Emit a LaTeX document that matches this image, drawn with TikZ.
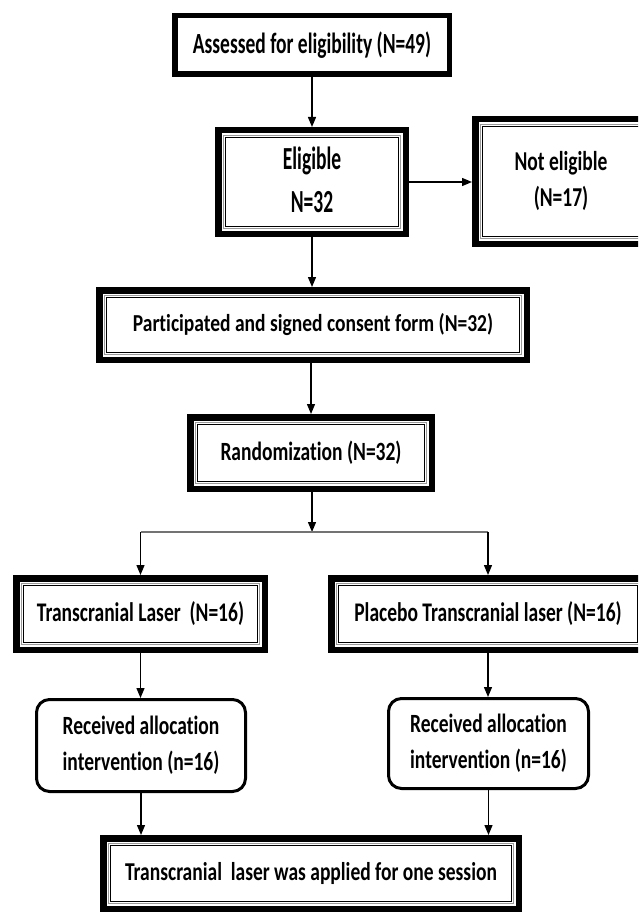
\documentclass[tikz,border=0pt]{standalone}
\usepackage{fontspec}
\setmainfont{Carlito}[Ligatures=NoCommon]
\usepackage{graphicx}
\usetikzlibrary{arrows.meta}
\newcommand{\vstr}[2]{\scalebox{1}[#1]{#2}}
\newcommand{\twol}[2]{\begin{tabular}{@{}c@{}}#1\\#2\end{tabular}}
\begin{document}
\begin{tikzpicture}[x=1pt,y=-1pt,
  txt/.style={font=\bfseries\fontsize{19.5}{26}\selectfont, inner sep=0pt, align=center},
  single/.style={txt, draw, line width=5.5pt},
  dbl/.style={txt, draw, line width=6.5pt},
  rnd/.style={txt, draw, line width=3pt, rounded corners=13pt},
  arr/.style={-{Triangle[length=10pt,width=8pt]}, line width=1.3pt},
  splitline/.style={draw=black!55, line width=1.5pt}]
\clip (0,0) rectangle (638,912);
\fill[white] (0,0) rectangle (638,912);

\node[single, minimum width=274.5pt, minimum height=58.5pt] (ass) at (312,45)
  {\vstr{1.5}{Assessed for eligibility (N=49)}};
\node[dbl, minimum width=187.5pt, minimum height=103.5pt] (elig) at (312,182)
  {\vstr{1.65}{\twol{Eligible}{N=32}}};
\node[dbl, minimum width=171.5pt, minimum height=124.5pt] (notel) at (561,181.5)
  {\vstr{1.4}{\twol{Not eligible}{(N=17)}}};
\node[dbl, minimum width=427.5pt, minimum height=69.5pt] (part) at (313,325)
  {\vstr{1.25}{Participated and signed consent form (N=32)}};
\node[dbl, minimum width=241.5pt, minimum height=71.5pt] (rand) at (311,453)
  {\vstr{1.35}{Randomization (N=32)}};
\node[dbl, minimum width=248.5pt, minimum height=71.5pt] (tl) at (140.5,614)
  {\vstr{1.38}{Transcranial Laser\ \ (N=16)}};
\node[dbl, minimum width=313.5pt, minimum height=71.5pt] (pl) at (488,614)
  {\vstr{1.38}{Placebo Transcranial laser (N=16)}};
\node[rnd, minimum width=209pt, minimum height=92pt] (rl) at (141,745.5)
  {\vstr{1.35}{\twol{Received allocation}{intervention (n=16)}}};
\node[rnd, minimum width=200pt, minimum height=90pt] (rr) at (488.5,743.5)
  {\vstr{1.35}{\twol{Received allocation}{intervention (n=16)}}};
\node[dbl, minimum width=415.5pt, minimum height=70.5pt] (fin) at (311,873.5)
  {\vstr{1.32}{Transcranial\ \ laser was applied for one session}};

\foreach \n in {elig,notel,part,rand,tl,pl,fin} {
  \draw[black!40, line width=1.2pt] ([xshift=8.5pt,yshift=-8.5pt]\n.north west) rectangle ([xshift=-8.5pt,yshift=8.5pt]\n.south east);
  \draw[line width=0.9pt] ([xshift=10.5pt,yshift=-10.5pt]\n.north west) rectangle ([xshift=-10.5pt,yshift=10.5pt]\n.south east);
}

\coordinate (sp) at (312,532);
\coordinate (spl) at (140.5,532);
\coordinate (spr) at (488,532);

\draw[arr] (ass.south) -- (elig.north);
\draw[arr] (elig.east) -- (elig.east -| notel.west);
\draw[arr] (elig.south) -- (part.north -| elig.south);
\draw[arr] (part.south -| rand.north) -- (rand.north);
\draw[arr] (rand.south -| sp) -- (sp);
\draw[splitline] (spl) -- (spr);
\draw[arr] (spl) -- (tl.north);
\draw[arr] (spr) -- (pl.north);
\draw[arr] (tl.south) -- (rl.north -| tl.south);
\draw[arr] (pl.south) -- (rr.north -| pl.south);
\draw[arr] (rl.south) -- (fin.north -| rl.south);
\draw[arr] (rr.south) -- (fin.north -| rr.south);
\end{tikzpicture}
\end{document}
